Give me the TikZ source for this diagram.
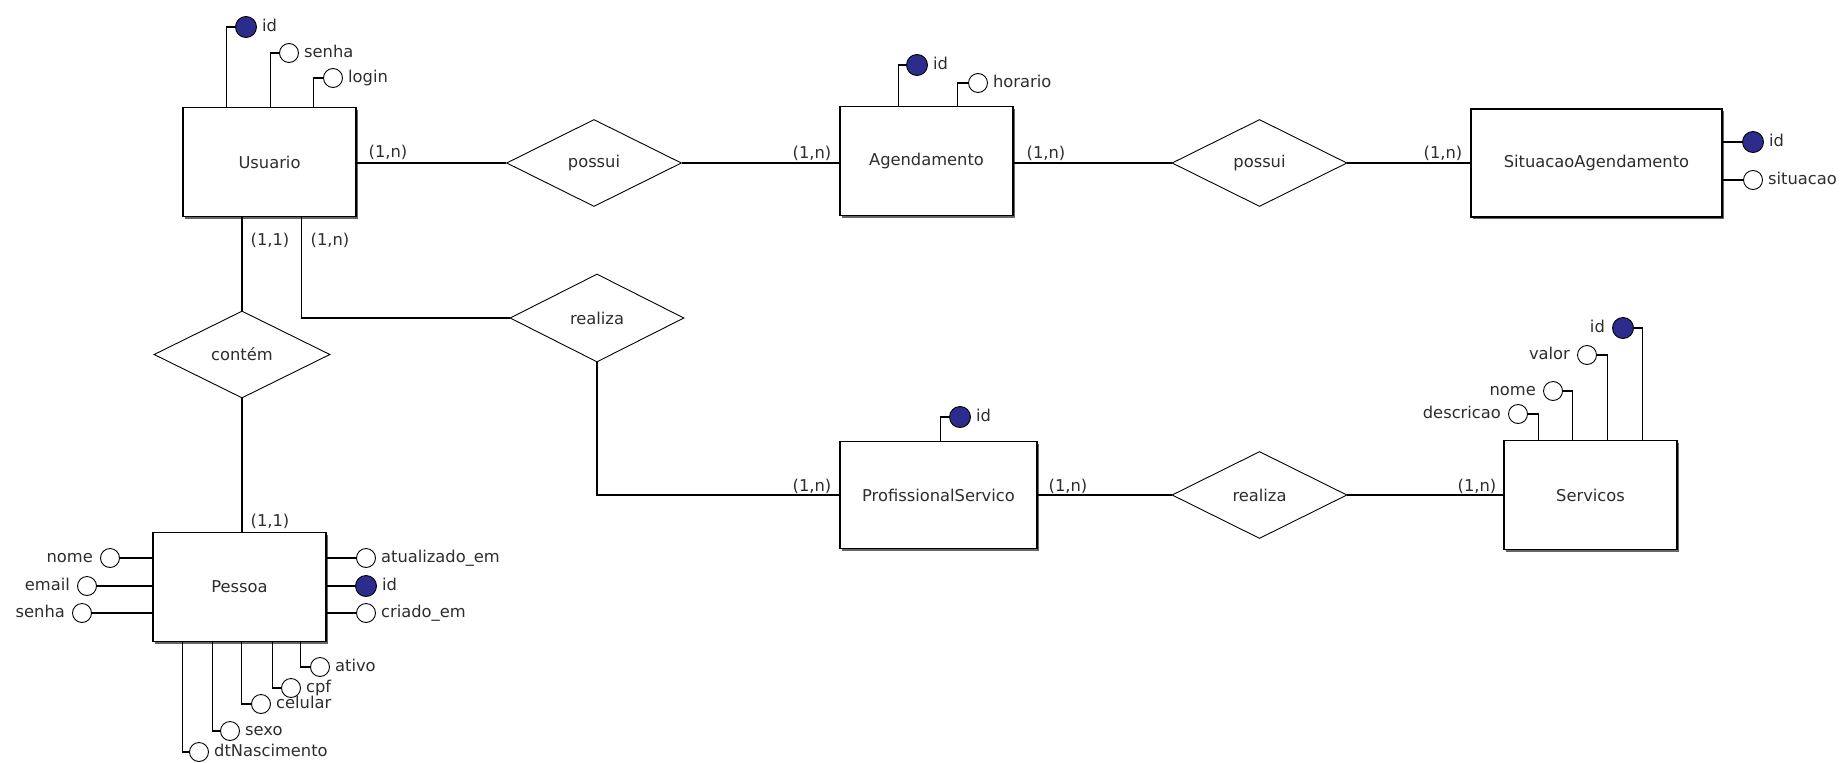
\documentclass[tikz,border=0pt]{standalone}
\usepackage{fontspec}
\setmainfont{DejaVu Sans}
\usetikzlibrary{shapes.geometric,calc,shadows}
\definecolor{keyblue}{RGB}{44,44,140}
\definecolor{ink}{RGB}{45,45,45}
\begin{document}
\begin{tikzpicture}[x=1pt,y=-1pt,
  font=\fontsize{16.3}{19}\selectfont,
  entity/.style={draw=black, line width=1.4pt, fill=white, minimum height=109pt,
    inner sep=0pt, text=ink,
    drop shadow={shadow xshift=2.2pt, shadow yshift=-2.2pt, fill=black!60, opacity=1}},
  relation/.style={shape=diamond, draw=black, line width=0.9pt, fill=white,
    minimum width=175pt, minimum height=87pt, inner sep=0pt, text=ink},
  attr/.style={circle, draw=black, line width=0.9pt, fill=white, minimum size=19pt, inner sep=0pt},
  keyattr/.style={attr, fill=keyblue, minimum size=21pt},
  lbl/.style={text=ink, inner sep=0pt, text height=1.5ex, text depth=0ex},
  card/.style={font=\fontsize{16.3}{19}\selectfont, text=ink, inner sep=0pt},
  conn/.style={draw=black, line width=1.2pt},
]
\fill[white] (0,0) rectangle (1845,763);
\useasboundingbox (0,0) rectangle (1845,763);

% entities
\node[entity, minimum width=173pt] (usr) at (269.5,162) {Usuario};
\node[entity, minimum width=173pt] (age) at (926.5,161) {Agendamento};
\node[entity, minimum width=251pt, minimum height=108pt] (sit) at (1596.5,163) {SituacaoAgendamento};
\node[entity, minimum width=197pt, minimum height=107pt] (pro) at (938.5,495) {ProfissionalServico};
\node[entity, minimum width=173pt] (ser) at (1590.5,495) {Servicos};
\node[entity, minimum width=173pt] (pes) at (239.5,587) {Pessoa};

% relationships
\node[relation] (pos1) at (594,163) {possui};
\node[relation] (pos2) at (1259.5,163) {possui};
\node[relation, minimum width=176pt] (con) at (242,354.5) {contém};
\node[relation, minimum width=174pt, minimum height=88pt] (rea1) at (597,318) {realiza};
\node[relation] (rea2) at (1259.5,495) {realiza};

% relationship lines
\draw[conn] (usr.east |- pos1.west) -- (pos1.west);
\draw[conn] (pos1.east) -- (pos1.east -| age.west);
\draw[conn] (age.east |- pos2.west) -- (pos2.west);
\draw[conn] (pos2.east) -- (pos2.east -| sit.west);
\draw[conn] (con.north) -- (con.north |- usr.south);
\draw[conn] (con.south) -- (con.south |- pes.north);
\draw[conn] (rea1.west) -| ($(usr.south west)+(119,0)$);
\draw[conn] (rea1.south) |- (pro.west);
\draw[conn] (pro.east) -- (rea2.west);
\draw[conn] (rea2.east) -- (ser.west);

% cardinalities
\node[card] (k1) at (388,152) {(1,n)};
\node[card] (k2) at (812,153) {(1,n)};
\node[card] (k3) at (1046,153) {(1,n)};
\node[card] (k4) at (1443,153) {(1,n)};
\node[card] (k5) at (270,240) {(1,1)};
\node[card] (k6) at (330,240) {(1,n)};
\node[card] (k7) at (270,521) {(1,1)};
\node[card] (k8) at (812,486) {(1,n)};
\node[card] (k9) at (1068,486) {(1,n)};
\node[card] (k10) at (1477,486) {(1,n)};

% Usuario attributes
\node[keyattr] (uid) at (246,27) {};
\node[lbl, anchor=west] (uidl) at ($(uid.east)+(5,0)$) {id};
\draw[conn] (uid.west) -| ($(usr.north west)+(44,0)$);
\node[attr] (usen) at (289,53) {};
\node[lbl, anchor=west] (usenl) at ($(usen.east)+(5,0)$) {senha};
\draw[conn] (usen.west) -| ($(usr.north west)+(88,0)$);
\node[attr] (ulog) at (333,78) {};
\node[lbl, anchor=west] (ulogl) at ($(ulog.east)+(5,0)$) {login};
\draw[conn] (ulog.west) -| ($(usr.north west)+(131,0)$);

% Agendamento attributes
\node[keyattr] (aid) at (917,65) {};
\node[lbl, anchor=west] (aidl) at ($(aid.east)+(5,0)$) {id};
\draw[conn] (aid.west) -| ($(age.north west)+(59,0)$);
\node[attr] (ahor) at (978,83) {};
\node[lbl, anchor=west] (ahorl) at ($(ahor.east)+(5,0)$) {horario};
\draw[conn] (ahor.west) -| ($(age.north west)+(118,0)$);

% SituacaoAgendamento attributes
\node[keyattr] (sid) at (1753,142) {};
\node[lbl, anchor=west] (sidl) at ($(sid.east)+(5,0)$) {id};
\draw[conn] (sid.west) -- (sid.west -| sit.east);
\node[attr] (ssit) at (1753,180) {};
\node[lbl, anchor=west] (ssitl) at ($(ssit.east)+(5,0)$) {situacao};
\draw[conn] (ssit.west) -- (ssit.west -| sit.east);

% ProfissionalServico attributes
\node[keyattr] (prid) at (960,417) {};
\node[lbl, anchor=west] (pridl) at ($(prid.east)+(5,0)$) {id};
\draw[conn] (prid.west) -| ($(pro.north west)+(101,0)$);

% Servicos attributes
\node[attr] (sdes) at (1518,414) {};
\node[lbl, anchor=east] (sdesl) at ($(sdes.west)+(-7,0)$) {descricao};
\draw[conn] (sdes.east) -| ($(ser.north west)+(35,0)$);
\node[attr] (snom) at (1553,391) {};
\node[lbl, anchor=east] (snoml) at ($(snom.west)+(-7,0)$) {nome};
\draw[conn] (snom.east) -| ($(ser.north west)+(69,0)$);
\node[attr] (sval) at (1587,355) {};
\node[lbl, anchor=east] (svall) at ($(sval.west)+(-7,0)$) {valor};
\draw[conn] (sval.east) -| ($(ser.north west)+(104,0)$);
\node[keyattr] (sid2) at (1623,328) {};
\node[lbl, anchor=east] (sid2l) at ($(sid2.west)+(-7,0)$) {id};
\draw[conn] (sid2.east) -| ($(ser.north west)+(139,0)$);

% Pessoa attributes, left side
\node[attr] (pnom) at (110,558) {};
\node[lbl, anchor=east] (pnoml) at ($(pnom.west)+(-7,0)$) {nome};
\draw[conn] (pnom.east) -- (pnom.east -| pes.west);
\node[attr] (pema) at (87,586) {};
\node[lbl, anchor=east] (pemal) at ($(pema.west)+(-7,0)$) {email};
\draw[conn] (pema.east) -- (pema.east -| pes.west);
\node[attr] (psen) at (82,613) {};
\node[lbl, anchor=east] (psenl) at ($(psen.west)+(-7,0)$) {senha};
\draw[conn] (psen.east) -- (psen.east -| pes.west);

% Pessoa attributes, right side
\node[attr] (patu) at (366,558) {};
\node[lbl, anchor=west] (patul) at ($(patu.east)+(5,0)$) {atualizado\_em};
\draw[conn] (patu.west) -- (patu.west -| pes.east);
\node[keyattr] (peid) at (366,586) {};
\node[lbl, anchor=west] (peidl) at ($(peid.east)+(5,0)$) {id};
\draw[conn] (peid.west) -- (peid.west -| pes.east);
\node[attr] (pcri) at (366,613) {};
\node[lbl, anchor=west] (pcril) at ($(pcri.east)+(5,0)$) {criado\_em};
\draw[conn] (pcri.west) -- (pcri.west -| pes.east);

% Pessoa attributes, below
\node[attr] (pati) at (320,667) {};
\node[lbl, anchor=west] (patil) at ($(pati.east)+(5,0)$) {ativo};
\draw[conn] (pati.west) -| ($(pes.south west)+(148,0)$);
\node[attr] (pcpf) at (291,688) {};
\node[lbl, anchor=west] (pcpfl) at ($(pcpf.east)+(5,0)$) {cpf};
\draw[conn] (pcpf.west) -| ($(pes.south west)+(120,0)$);
\node[attr] (pcel) at (261,704) {};
\node[lbl, anchor=west] (pcell) at ($(pcel.east)+(5,0)$) {celular};
\draw[conn] (pcel.west) -| ($(pes.south west)+(89,0)$);
\node[attr] (psex) at (230,731) {};
\node[lbl, anchor=west] (psexl) at ($(psex.east)+(5,0)$) {sexo};
\draw[conn] (psex.west) -| ($(pes.south west)+(60,0)$);
\node[attr] (pdtn) at (199,752) {};
\node[lbl, anchor=west] (pdtnl) at ($(pdtn.east)+(5,0)$) {dtNascimento};
\draw[conn] (pdtn.west) -| ($(pes.south west)+(30,0)$);
\end{tikzpicture}
\end{document}
